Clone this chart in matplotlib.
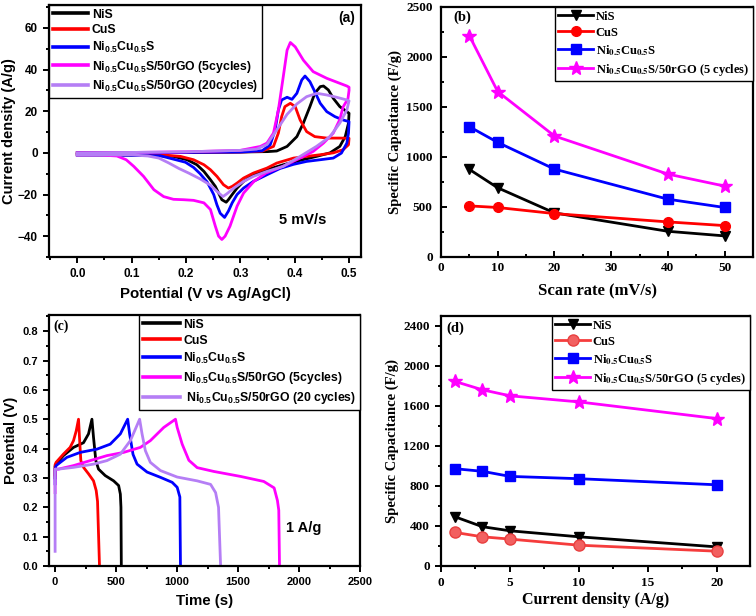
import matplotlib
matplotlib.use('Agg')
import matplotlib.pyplot as plt
from matplotlib.ticker import MultipleLocator

plt.rcParams['mathtext.fontset'] = 'custom'
plt.rcParams['mathtext.rm'] = 'Liberation Sans:bold'
plt.rcParams['mathtext.bf'] = 'Liberation Sans:bold'

SANS = 'Liberation Sans'
SERIF = 'Liberation Serif'

C_NIS = '#000000'
C_CUS = '#ff0000'
C_NICU = '#0000ff'
C_RGO5 = '#ff00ff'
C_RGO20 = '#b57ef5'

# ---------------- (a) CV at 5 mV/s ----------------
nis_up_v = [0, 0.1, 0.2, 0.3, 0.35, 0.367, 0.386, 0.404, 0.416, 0.428, 0.437, 0.447, 0.453, 0.462, 0.471, 0.483, 0.496, 0.5]
nis_up_i = [0, 0.1, 0.2, 0.4, 0.6, 0.9, 3.1, 7.8, 14.3, 22.2, 28.6, 31.8, 32.1, 30.2, 26.2, 22.2, 19.8, 19]
nis_dn_v = [0.5, 0.499, 0.493, 0.483, 0.465, 0.44, 0.41, 0.379, 0.349, 0.324, 0.306, 0.294, 0.285, 0.278, 0.274, 0.266, 0.26, 0.254, 0.245, 0.233, 0.22, 0.202, 0.177, 0.153, 0.05, 0]
nis_dn_i = [19, 14.3, 7.8, 3.1, 0, -1.7, -3.6, -5.7, -8.1, -10.5, -13.7, -16.9, -20, -22.5, -23.7, -22.5, -19.3, -16.1, -12.9, -8.9, -5.7, -3.3, -1.7, -1.4, -1, -1]

cus_up_v = [0, 0.1, 0.2, 0.3, 0.34, 0.361, 0.370, 0.376, 0.382, 0.392, 0.401, 0.41, 0.422, 0.437, 0.459, 0.483, 0.5]
cus_up_i = [0, 0.1, 0.2, 0.4, 0.8, 3.1, 9.5, 17.4, 22.2, 23.8, 22.2, 15.8, 10.2, 7.8, 7.1, 7.1, 7]
cus_dn_v = [0.5, 0.499, 0.489, 0.471, 0.447, 0.422, 0.398, 0.367, 0.349, 0.324, 0.306, 0.294, 0.285, 0.278, 0.269, 0.257, 0.245, 0.233, 0.214, 0.19, 0.153, 0.05, 0]
cus_dn_i = [7, 3.9, 1.5, 0, -0.9, -1.7, -2.5, -4.9, -7.3, -9.7, -12.1, -14.5, -16.1, -16.9, -15.3, -11.3, -8.1, -5.7, -3.3, -1.7, -0.9, -0.8, -0.8]

nicu_up_v = [0, 0.1, 0.2, 0.3, 0.34, 0.355, 0.364, 0.37, 0.376, 0.386, 0.395, 0.404, 0.413, 0.419, 0.428, 0.437, 0.447, 0.459, 0.474, 0.489, 0.5]
nicu_up_i = [0, 0.1, 0.2, 0.4, 1, 3.9, 11, 20.6, 25.4, 26.7, 25.7, 28.6, 35, 36.9, 34.2, 29.4, 23.8, 19.8, 17.4, 15.8, 15]
nicu_dn_v = [0.5, 0.499, 0.496, 0.486, 0.471, 0.447, 0.422, 0.398, 0.373, 0.349, 0.324, 0.306, 0.294, 0.285, 0.278, 0.271, 0.263, 0.257, 0.251, 0.239, 0.226, 0.214, 0.199, 0.153, 0.05, 0]
nicu_dn_i = [15, 9.5, 4.7, -0.1, -2.5, -3.3, -4.1, -5.5, -7.5, -10.5, -13.7, -16.9, -20, -24, -28, -31, -29, -25, -20, -14, -10, -7, -4.5, -1.4, -1, -1]

rgo5_up_v = [0, 0.1, 0.2, 0.3, 0.337, 0.349, 0.361, 0.370, 0.379, 0.386, 0.392, 0.401, 0.416, 0.434, 0.459, 0.483, 0.496, 0.5]
rgo5_up_i = [0, 0.2, 0.5, 1.2, 3.1, 4.7, 9.5, 20.6, 36.6, 49.3, 53, 50.9, 44.5, 39, 35.8, 33.4, 32.1, 31.5]
rgo5_dn_v = [0.5, 0.498, 0.489, 0.483, 0.471, 0.453, 0.434, 0.41, 0.378, 0.347, 0.325, 0.306, 0.294, 0.281, 0.272, 0.266, 0.26, 0.254, 0.245, 0.233, 0.214, 0.196, 0.177, 0.159, 0.141, 0.122, 0.104, 0.09, 0.073, 0.04, 0]
rgo5_dn_i = [30, 26, 22, 16, 9.5, 4.7, 0.7, -2.5, -6.5, -9.7, -13.7, -19.3, -25.6, -35.2, -40, -41.6, -40, -35.2, -27.2, -24, -22.8, -22.5, -22.3, -21, -17.7, -11.3, -6.5, -3.3, -1.5, -1, -1]

rgo20_up_v = [0, 0.1, 0.2, 0.3, 0.33, 0.349, 0.367, 0.386, 0.404, 0.422, 0.441, 0.459, 0.477, 0.496, 0.5]
rgo20_up_i = [0, 0.2, 0.5, 1.2, 1.8, 4, 11, 18.5, 23.5, 27, 28.6, 27.8, 26.7, 25.4, 25]
rgo20_dn_v = [0.5, 0.496, 0.483, 0.465, 0.44, 0.41, 0.379, 0.349, 0.324, 0.306, 0.288, 0.276, 0.268, 0.257, 0.245, 0.226, 0.205, 0.187, 0.168, 0.15, 0.13, 0.1, 0]
rgo20_dn_i = [25, 20.6, 14.3, 7.8, 3.1, -1.7, -6.5, -8.9, -11.3, -13.7, -16.9, -19.5, -21, -18.5, -15.5, -12.5, -9.7, -7.5, -4.8, -2.5, -1.5, -1, -1]

# ---------------- (b) capacitance vs scan rate ----------------
scan_rate = [5, 10, 20, 40, 50]
cs_nis_b = [876, 692, 441, 257, 211]
cs_cus_b = [511, 495, 434, 351, 314]
cs_nicu_b = [1303, 1146, 879, 578, 495]
cs_rgo_b = [2213, 1654, 1210, 829, 709]

# ---------------- (c) GCD at 1 A/g ----------------
gcd_nis_t = [0, 0, 8, 68, 151, 233, 274, 302, 315, 334, 356, 411, 480, 521, 535, 540, 543]
gcd_nis_v = [0.30, 0.34, 0.347, 0.376, 0.404, 0.42, 0.45, 0.5, 0.438, 0.359, 0.33, 0.308, 0.29, 0.274, 0.245, 0.2, 0]
gcd_cus_t = [0, 0, 8, 68, 123, 151, 173, 192, 200, 211, 233, 274, 315, 337, 348, 364]
gcd_cus_v = [0.31, 0.345, 0.353, 0.381, 0.404, 0.427, 0.46, 0.5, 0.438, 0.359, 0.336, 0.314, 0.29, 0.257, 0.22, 0]
gcd_nicu_t = [0, 0, 8, 96, 206, 343, 452, 535, 595, 611, 639, 672, 754, 864, 960, 1001, 1023, 1028]
gcd_nicu_v = [0.28, 0.33, 0.342, 0.37, 0.387, 0.398, 0.415, 0.45, 0.5, 0.45, 0.38, 0.347, 0.32, 0.302, 0.285, 0.268, 0.235, 0]
gcd_rgo5_t = [0, 0, 27, 151, 288, 425, 562, 699, 781, 891, 987, 1001, 1042, 1097, 1165, 1302, 1522, 1711, 1796, 1823, 1834, 1840]
gcd_rgo5_v = [0.25, 0.33, 0.33, 0.342, 0.359, 0.376, 0.387, 0.404, 0.427, 0.472, 0.5, 0.472, 0.415, 0.36, 0.335, 0.322, 0.305, 0.288, 0.266, 0.223, 0.19, 0]
gcd_rgo20_t = [0, 0, 27, 151, 315, 425, 535, 617, 658, 693, 713, 740, 781, 864, 1001, 1165, 1275, 1316, 1340, 1357]
gcd_rgo20_v = [0.05, 0.33, 0.33, 0.336, 0.347, 0.359, 0.381, 0.427, 0.466, 0.5, 0.45, 0.393, 0.353, 0.325, 0.303, 0.29, 0.278, 0.25, 0.2, 0]

# ---------------- (d) capacitance vs current density ----------------
cur_density = [1, 3, 5, 10, 20]
cs_nis_d = [493, 393, 352, 292, 191]
cs_cus_d = [336, 292, 269, 208, 148]
cs_nicu_d = [973, 947, 896, 873, 812]
cs_rgo_d = [1846, 1762, 1702, 1641, 1474]

LBL_NIS = 'NiS'
LBL_CUS = 'CuS'
LBL_NICU = r'Ni$_{\mathbf{0.5}}$Cu$_{\mathbf{0.5}}$S'
LBL_A5 = r'Ni$_{\mathbf{0.5}}$Cu$_{\mathbf{0.5}}$S/50rGO (5cycles)'
LBL_A20 = r'Ni$_{\mathbf{0.5}}$Cu$_{\mathbf{0.5}}$S/50rGO (20cycles)'
LBL_C20 = r' Ni$_{\mathbf{0.5}}$Cu$_{\mathbf{0.5}}$S/50rGO (20 cycles)'
LBL_B5 = r'Ni$_{\mathbf{0.5}}$Cu$_{\mathbf{0.5}}$S/50rGO (5 cycles)'

W, H = 756, 616
fig = plt.figure(figsize=(W / 100, H / 100), dpi=100)


def box(l, t, r, b):
    return [l / W, 1 - b / H, (r - l) / W, (b - t) / H]


def style(ax, family, tsize, direction='out'):
    for s in ax.spines.values():
        s.set_linewidth(1.6)
    ax.tick_params(which='both', direction=direction, width=1.4, top=False, right=False)
    ax.tick_params(which='major', length=4.5)
    ax.tick_params(which='minor', length=2.5)
    for lab in ax.get_xticklabels() + ax.get_yticklabels():
        lab.set_family(family)
        lab.set_weight('bold')
        lab.set_size(tsize)


lw = 2.0
ms = 7

# (a)
ax = fig.add_axes(box(49, 5, 361, 257))
ax.plot(nis_up_v + nis_dn_v, nis_up_i + nis_dn_i, color=C_NIS, lw=lw, label=LBL_NIS)
ax.plot(cus_up_v + cus_dn_v, cus_up_i + cus_dn_i, color=C_CUS, lw=lw, label=LBL_CUS)
ax.plot(nicu_up_v + nicu_dn_v, nicu_up_i + nicu_dn_i, color=C_NICU, lw=lw, label=LBL_NICU)
ax.plot(rgo5_up_v + rgo5_dn_v, rgo5_up_i + rgo5_dn_i, color=C_RGO5, lw=lw, label=LBL_A5)
ax.plot(rgo20_up_v + rgo20_dn_v, rgo20_up_i + rgo20_dn_i, color=C_RGO20, lw=lw, label=LBL_A20)
ax.set_xlim(-0.052, 0.522)
ax.set_ylim(-50, 71)
ax.xaxis.set_minor_locator(MultipleLocator(0.05))
ax.yaxis.set_major_locator(MultipleLocator(20))
ax.yaxis.set_minor_locator(MultipleLocator(10))
ax.set_xticks([0, 0.1, 0.2, 0.3, 0.4, 0.5], ['0.0', '0.1', '0.2', '0.3', '0.4', '0.5'])
style(ax, SANS, 8.5)
ax.set_xlabel('Potential (V vs Ag/AgCl)', family=SANS, weight='bold', size=10.8, labelpad=5)
ax.set_ylabel('Current density (A/g)', family=SANS, weight='bold', size=10.5, labelpad=1)
leg = ax.legend(loc='upper left', bbox_to_anchor=(0, 1), borderaxespad=0, fancybox=False,
                edgecolor='black', framealpha=1, handlelength=2.9, handletextpad=0.3,
                labelspacing=0.3, borderpad=0.3,
                prop={'family': SANS, 'weight': 'bold', 'size': 8.8})
leg.get_frame().set_linewidth(1.0)
for l in leg.get_lines():
    l.set_linewidth(2.6)
ax.text(0.955, 0.95, '(a)', transform=ax.transAxes, ha='center', va='center',
        family=SANS, weight='bold', size=10)
ax.text(0.415, -32, '5 mV/s', ha='center', va='center', family=SANS, weight='bold', size=10.5)

# (b)
ax = fig.add_axes(box(441, 7, 753, 257))
ax.plot(scan_rate, cs_nis_b, color=C_NIS, lw=lw, marker='v', ms=ms, label=LBL_NIS)
ax.plot(scan_rate, cs_cus_b, color=C_CUS, lw=lw, marker='o', ms=ms, label=LBL_CUS)
ax.plot(scan_rate, cs_nicu_b, color=C_NICU, lw=lw, marker='s', ms=ms, label=LBL_NICU)
ax.plot(scan_rate, cs_rgo_b, color=C_RGO5, lw=lw, marker='*', ms=ms + 3, label=LBL_B5)
ax.set_xlim(0, 55)
ax.set_ylim(0, 2500)
ax.xaxis.set_major_locator(MultipleLocator(10))
ax.xaxis.set_minor_locator(MultipleLocator(5))
ax.yaxis.set_major_locator(MultipleLocator(500))
ax.yaxis.set_minor_locator(MultipleLocator(250))
style(ax, SERIF, 9.5, direction='in')
ax.tick_params(axis='y', pad=6)
ax.set_xlabel('Scan rate (mV/s)', family=SERIF, weight='bold', size=12, labelpad=7)
ax.set_ylabel('Specific Capacitance (F/g)', family=SERIF, weight='bold', size=10.5, labelpad=3)
leg = ax.legend(loc='upper right', bbox_to_anchor=(1, 1), borderaxespad=0, fancybox=False,
                edgecolor='black', framealpha=1, handlelength=2.8, handletextpad=0.2,
                labelspacing=0.32, borderpad=0.3,
                prop={'family': SERIF, 'weight': 'bold', 'size': 9, 'math_fontfamily': 'stix'})
leg.get_frame().set_linewidth(1.0)
ax.text(0.04, 0.96, '(b)', transform=ax.transAxes, ha='left', va='center',
        family=SERIF, weight='bold', size=10.5)

# (c)
ax = fig.add_axes(box(49, 315, 360, 566))
ax.plot(gcd_nis_t, gcd_nis_v, color=C_NIS, lw=lw, label=LBL_NIS)
ax.plot(gcd_cus_t, gcd_cus_v, color=C_CUS, lw=lw, label=LBL_CUS)
ax.plot(gcd_nicu_t, gcd_nicu_v, color=C_NICU, lw=lw, label=LBL_NICU)
ax.plot(gcd_rgo5_t, gcd_rgo5_v, color=C_RGO5, lw=lw, label=LBL_A5)
ax.plot(gcd_rgo20_t, gcd_rgo20_v, color=C_RGO20, lw=lw, label=LBL_C20)
ax.set_xlim(-50, 2500)
ax.set_ylim(0, 0.855)
ax.xaxis.set_major_locator(MultipleLocator(500))
ax.xaxis.set_minor_locator(MultipleLocator(250))
ax.yaxis.set_major_locator(MultipleLocator(0.1))
ax.yaxis.set_minor_locator(MultipleLocator(0.05))
style(ax, SANS, 8)
ax.set_xlabel('Time (s)', family=SANS, weight='bold', size=10.8, labelpad=5)
ax.set_ylabel('Potential (V)', family=SANS, weight='bold', size=10.8, labelpad=3)
leg = ax.legend(loc='upper right', bbox_to_anchor=(1, 1), borderaxespad=0, fancybox=False,
                edgecolor='black', framealpha=1, handlelength=3.0, handletextpad=0.3,
                labelspacing=0.33, borderpad=0.3,
                prop={'family': SANS, 'weight': 'bold', 'size': 8.8})
leg.get_frame().set_linewidth(1.0)
for l in leg.get_lines():
    l.set_linewidth(2.6)
ax.text(0.015, 0.955, '(c)', transform=ax.transAxes, ha='left', va='center',
        family=SERIF, weight='bold', size=10)
ax.text(2040, 0.13, '1 A/g', ha='center', va='center', family=SANS, weight='bold', size=10.5)

# (d)
ax = fig.add_axes(box(441, 316, 750, 566))
ax.plot(cur_density, cs_nis_d, color=C_NIS, lw=lw, marker='v', ms=ms, label=LBL_NIS)
ax.plot(cur_density, cs_cus_d, color='#f53c3c', lw=lw, marker='o', ms=ms + 1,
        mfc='#f26060', mec='#e84040', label=LBL_CUS)
ax.plot(cur_density, cs_nicu_d, color=C_NICU, lw=lw, marker='s', ms=ms, label=LBL_NICU)
ax.plot(cur_density, cs_rgo_d, color=C_RGO5, lw=lw, marker='*', ms=ms + 3, label=LBL_B5)
ax.set_xlim(0, 22.4)
ax.set_ylim(0, 2500)
ax.xaxis.set_major_locator(MultipleLocator(5))
ax.xaxis.set_minor_locator(MultipleLocator(2.5))
ax.yaxis.set_major_locator(MultipleLocator(400))
ax.yaxis.set_minor_locator(MultipleLocator(200))
style(ax, SERIF, 9.5)
ax.set_xlabel('Current density (A/g)', family=SERIF, weight='bold', size=11.5, labelpad=2)
ax.set_ylabel('Specific Capacitance (F/g)', family=SERIF, weight='bold', size=10.5, labelpad=3)
leg = ax.legend(loc='upper right', bbox_to_anchor=(1, 1), borderaxespad=0, fancybox=False,
                edgecolor='black', framealpha=1, handlelength=2.8, handletextpad=0.2,
                labelspacing=0.32, borderpad=0.3,
                prop={'family': SERIF, 'weight': 'bold', 'size': 9, 'math_fontfamily': 'stix'})
leg.get_frame().set_linewidth(1.0)
ax.text(0.016, 0.95, '(d)', transform=ax.transAxes, ha='left', va='center',
        family=SERIF, weight='bold', size=10.5)

fig.savefig('out.png', dpi=100)
